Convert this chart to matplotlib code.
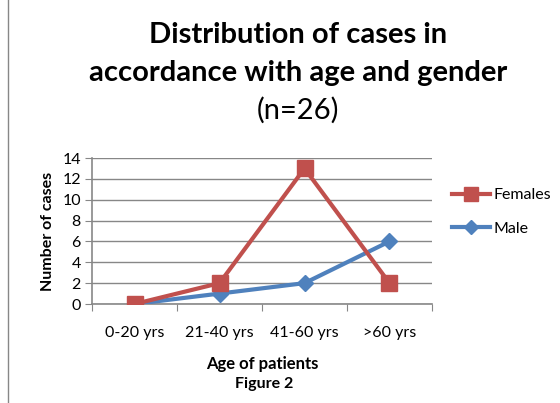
import matplotlib.pyplot as plt
from matplotlib.lines import Line2D

ages = ['0-20 yrs', '21-40 yrs', '41-60 yrs', '>60 yrs']
females = [0, 2, 13, 2]
male = [0, 1, 2, 6]

plt.rcParams['font.family'] = ['Lato', 'DejaVu Sans']
red = '#C0504D'
blue = '#4F81BD'

fig = plt.figure(figsize=(5.6, 4.03), dpi=100)
ax = fig.add_axes([92/560, 1-304/403, 340/560, 146/403])

x = range(len(ages))
ax.plot(x, male, color=blue, linewidth=3, marker='D', markersize=8, label='Male', zorder=3)
ax.plot(x, females, color=red, linewidth=3, marker='s', markersize=11, label='Females', zorder=4)

ax.set_xlim(-0.5, 3.5)
ax.set_ylim(0, 14)
ax.set_yticks(range(0, 15, 2))
ax.set_xticks([-0.5, 0.5, 1.5, 2.5, 3.5])
ax.set_xticklabels([])
ax.set_xticks(list(x), minor=True)
ax.set_xticklabels(ages, minor=True, fontsize=11.5)
ax.tick_params(axis='x', which='minor', length=0, pad=16)
ax.tick_params(axis='x', which='major', length=5, color='#878787')
ax.tick_params(axis='y', length=5, color='#878787', labelsize=11.5, pad=3)
ax.grid(axis='y', color='#878787', linewidth=1)
ax.set_axisbelow(True)
for s in ['top', 'right']:
    ax.spines[s].set_visible(False)
for s in ['left', 'bottom']:
    ax.spines[s].set_color('#878787')
    ax.spines[s].set_linewidth(1.2)

ax.set_ylabel('Number of cases', fontsize=11.5, fontweight='bold', labelpad=5)
ax.set_xlabel('Age of patients', fontsize=12, fontweight='bold', labelpad=11)

handles = [Line2D([], [], color=red, linewidth=3, marker='s', markersize=10),
           Line2D([], [], color=blue, linewidth=3, marker='D', markersize=7)]
fig.legend(handles, ['Females', 'Male'], loc='center left', bbox_to_anchor=(452/560, 1-212/403),
           frameon=False, fontsize=11.5, handlelength=2.4, labelspacing=1.2, handletextpad=0.2,
           borderpad=0, borderaxespad=0)

fig.text(298/560, 1-35/403, 'Distribution of cases in', ha='center', va='center',
         fontsize=21, fontweight='bold')
fig.text(298/560, 1-73/403, 'accordance with age and gender', ha='center', va='center',
         fontsize=21, fontweight='bold')
fig.text(298/560, 1-110/403, '(n=26)', ha='center', va='center', fontsize=21)
fig.text(264/560, 1-384/403, 'Figure 2', ha='center', va='center', fontsize=11.5, fontweight='bold')

fig.add_artist(Line2D([8/560, 8/560], [0, 1], color='#878787', linewidth=1, transform=fig.transFigure))

plt.savefig('out.png', dpi=100)
